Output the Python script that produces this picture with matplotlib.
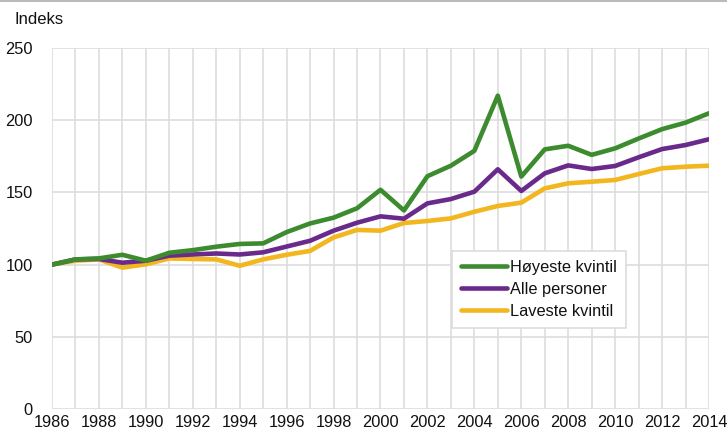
import matplotlib
matplotlib.use("Agg")
import matplotlib.pyplot as plt
from matplotlib.lines import Line2D

years = list(range(1986, 2015))
hoyeste = [100, 103.6, 104.3, 106.8, 102.7, 108.2, 110, 112.4, 114.3, 114.7,
           122.5, 128.5, 132.5, 139, 151.8, 137.5, 161.2, 168.5, 178.8, 217,
           161, 179.8, 182.3, 176, 180.5, 187.3, 193.8, 198.3, 204.8]
alle = [100, 103.6, 103.9, 101.3, 102.7, 106.2, 107, 107.7, 107, 108.5,
        112.5, 116.5, 123.5, 129, 133.4, 131.8, 142.4, 145.4, 150.5, 166,
        151, 163.2, 168.7, 166.2, 168.3, 174.3, 180, 182.8, 186.8]
laveste = [100, 102.7, 103.6, 97.9, 100.2, 104.3, 103.9, 103.6, 99.2, 103.6,
           106.8, 109.5, 118.8, 124, 123.5, 128.8, 130.2, 132, 136.6, 140.6,
           142.9, 152.8, 156.3, 157.4, 158.6, 162.7, 166.7, 167.8, 168.5]
labels = ["Høyeste kvintil", "Alle personer", "Laveste kvintil"]
colors = ["#3d8b2f", "#6a2a8c", "#f2b61f"]
xticks = list(range(1986, 2015, 2))
yticks = [0, 50, 100, 150, 200, 250]

plt.rcParams['font.family'] = ['Liberation Sans', 'DejaVu Sans']

fig = plt.figure(figsize=(7.27, 4.29), dpi=100)
ax = fig.add_axes([52/727, 1-409/429, (709-52)/727, (409-48)/429])

series = [hoyeste, alle, laveste]
for vals, lab, col, z in zip(series, labels, colors, [5, 4, 3]):
    ax.plot(years, vals, color=col, lw=3.3, label=lab, solid_capstyle='round',
            solid_joinstyle='round', zorder=z)

ax.set_xlim(1986, 2014)
ax.set_ylim(0, 250)
ax.set_xticks(xticks)
ax.set_xticks(years, minor=True)
ax.set_yticks(yticks)
ax.grid(True, which='both', axis='x', color='#dddddd', lw=1.2, zorder=0)
ax.grid(True, which='major', axis='y', color='#dddddd', lw=1.2, zorder=0)
ax.set_axisbelow(True)
for s in ax.spines.values():
    s.set_visible(False)
ax.tick_params(axis='both', which='both', length=0, labelsize=11.8, colors='#111111')
ax.tick_params(axis='y', pad=14)
ax.tick_params(axis='x', pad=4)

fig.text(14/727, 1-19/429, "Indeks", fontsize=12, color='#111111', va='center', ha='left')

# top border line of the figure
fig.add_artist(Line2D([0, 1], [0.998, 0.998], color='#bbbbbb', lw=1.5, transform=fig.transFigure))

leg = ax.legend(loc='upper left', bbox_to_anchor=((452-52)/657, (409-251)/361),
                borderaxespad=0, frameon=True, fancybox=False, fontsize=11.8,
                handlelength=2.8, handletextpad=0.2, labelspacing=0.42,
                borderpad=0.55, edgecolor='#dddddd', framealpha=1)
leg.get_frame().set_linewidth(1.2)
for t in leg.get_texts():
    t.set_color('#111111')

fig.savefig("out.png", dpi=100)
